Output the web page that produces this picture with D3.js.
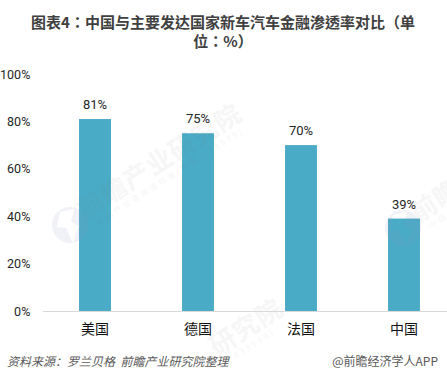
<!DOCTYPE html>
<html>
<head>
<meta charset="utf-8">
<script src="https://cdn.jsdelivr.net/npm/d3@7"></script>
<style>
  html, body { margin: 0; padding: 0; background: #fff; }
  text { font-family: "Noto Sans CJK SC", sans-serif; }
</style>
</head>
<body>
<div id="chart"></div>
<script>
var categories = ["美国", "德国", "法国", "中国"];
var values = [81, 75, 70, 39];
var yTicks = [0, 20, 40, 60, 80, 100];
var titleLines = ["图表4：中国与主要发达国家新车汽车金融渗透率对比（单", "位：%）"];
var sourceText = "资料来源：罗兰贝格  前瞻产业研究院整理";
var brandText = "@前瞻经济学人APP";
var numFont = "Roboto, sans-serif";

var width = 447, height = 380;
var svg = d3.select("#chart").append("svg")
  .attr("width", width)
  .attr("height", height)
  .style("display", "block");

var x = d3.scaleBand().domain(categories).range([43.5, 455.5]).paddingInner(0.69).paddingOuter(0.345);
var y = d3.scaleLinear().domain([0, 100]).range([311, 74]);

svg.selectAll("text.title").data(titleLines).enter().append("text")
  .attr("class", "title")
  .attr("x", 223)
  .attr("y", function(d, i) { return 28 + i * 19; })
  .attr("text-anchor", "middle")
  .attr("fill", "#404040")
  .style("font-family", '"Noto Sans CJK TC", sans-serif') // TC centres the colon and brackets
  .style("font-size", "15px")
  .style("font-weight", "bold")
  .text(function(d) { return d; });

svg.selectAll("rect.bar").data(values).enter().append("rect")
  .attr("class", "bar")
  .attr("x", function(d, i) { return x(categories[i]); })
  .attr("y", function(d) { return y(d); })
  .attr("width", x.bandwidth())
  .attr("height", function(d) { return y(0) - y(d); })
  .attr("fill", "#4aabc6");

// faint watermark sits over the bars
function watermark(dx, dy, big, bigFrom, small, smallFrom, logo) {
  var g = svg.append("g").attr("transform", "translate(" + dx + "," + dy + ")");
  if (logo) {
    g.append("path")
      .attr("d", "M70,207a18,18 0 1,1 -0.01,0Z M60,212L74,209L71,222L79,226L73,243L66,228L57,227Z")
      .attr("fill-rule", "evenodd")
      .attr("fill", "#8093bb")
      .attr("opacity", 0.12);
  }
  g.append("text")
    .attr("transform", "translate(85,220) rotate(-32.6) translate(" + (bigFrom * 27) + ",0)")
    .attr("fill", "#777")
    .attr("opacity", 0.06)
    .style("font-size", "26px")
    .style("font-weight", "bold")
    .style("letter-spacing", "1px")
    .text(big);
  g.append("text")
    .attr("transform", "translate(98,226) rotate(-32.6) translate(" + smallFrom + ",0)")
    .attr("fill", "#777")
    .attr("opacity", 0.07)
    .style("font-size", "8px")
    .style("letter-spacing", "2.6px")
    .text(small);
}
watermark(0, 0, "前瞻产业研究院", 0, "中国产业咨询领导者(股票:833599)", 0, true);
watermark(41, 195, "研究院", 4, "833599)", 115, false);
watermark(333, 3, "前瞻", 0, "中国", 0, true);

svg.selectAll("text.val").data(values).enter().append("text")
  .attr("class", "val")
  .attr("x", function(d, i) { return x(categories[i]) + x.bandwidth() / 2; })
  .attr("y", function(d) { return y(d) - 10; })
  .attr("text-anchor", "middle")
  .attr("fill", "#262626")
  .style("font-family", numFont)
  .style("font-size", "13px")
  .text(function(d) { return d + "%"; });

var axisY = svg.append("g")
  .attr("transform", "translate(30.3,0)")
  .call(d3.axisLeft(y).tickValues(yTicks).tickSize(0).tickPadding(0).tickFormat(function(d) { return d + "%"; }));
axisY.select(".domain").remove();
axisY.selectAll("text")
  .attr("fill", "#262626")
  .style("font-family", numFont)
  .style("font-size", "12.5px");

var axisX = svg.append("g")
  .attr("transform", "translate(0,311)")
  .call(d3.axisBottom(x).tickSize(0).tickPadding(13));
axisX.select(".domain").remove();
axisX.selectAll("text").attr("fill", "#111").style("font-family", '"Noto Sans CJK SC", sans-serif').style("font-size", "14px");

svg.append("line")
  .attr("x1", 43).attr("x2", 447)
  .attr("y1", y(0) + 0.5).attr("y2", y(0) + 0.5)
  .attr("stroke", "#d9d9d9").attr("stroke-width", 1);

svg.append("text")
  .attr("x", 7).attr("y", 366)
  .attr("fill", "#595959")
  .style("font-size", "12px")
  .style("font-style", "italic")
  .style("white-space", "pre")
  .text(sourceText);

svg.append("text")
  .attr("x", 438).attr("y", 366)
  .attr("text-anchor", "end")
  .attr("fill", "#595959")
  .style("font-size", "12px")
  .text(brandText);
</script>
</body>
</html>
